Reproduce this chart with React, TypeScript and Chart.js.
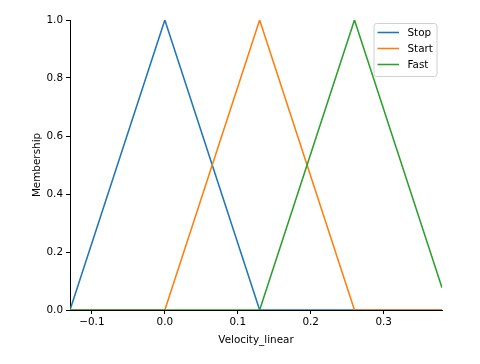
import React, { useEffect, useRef } from "react";
import { Chart, registerables } from "chart.js";

Chart.register(...registerables);

const xs = [-0.13, 0, 0.13, 0.26, 0.38];
const stop = [0, 1, 0, 0, 0];
const start = [0, 0, 1, 0, 0];
const fast = [0, 0, 0, 1, 0.077];
const xTicks = [-0.1, 0, 0.1, 0.2, 0.3];
const yTicks = [0, 0.2, 0.4, 0.6, 0.8, 1.0];
const names = ["Stop", "Start", "Fast"];
const colors = ["#1f77b4", "#ff7f0e", "#2ca02c"];

const FONT = "DejaVu Sans";
const FS = 10.4;

const legendPlugin = {
  id: "mplLegend",
  afterDatasetsDraw(chart: any) {
    const ctx = chart.ctx;
    const ca = chart.chartArea;
    const bx = ca.right - 68;
    const by = ca.top + 3.5;
    const bw = 63;
    const bh = 53;
    ctx.save();
    ctx.beginPath();
    const r = 2.5;
    ctx.moveTo(bx + r, by);
    ctx.lineTo(bx + bw - r, by);
    ctx.quadraticCurveTo(bx + bw, by, bx + bw, by + r);
    ctx.lineTo(bx + bw, by + bh - r);
    ctx.quadraticCurveTo(bx + bw, by + bh, bx + bw - r, by + bh);
    ctx.lineTo(bx + r, by + bh);
    ctx.quadraticCurveTo(bx, by + bh, bx, by + bh - r);
    ctx.lineTo(bx, by + r);
    ctx.quadraticCurveTo(bx, by, bx + r, by);
    ctx.closePath();
    ctx.fillStyle = "rgba(255,255,255,0.8)";
    ctx.fill();
    ctx.strokeStyle = "#d0d0d0";
    ctx.lineWidth = 1;
    ctx.stroke();
    ctx.font = `${FS}px '${FONT}'`;
    ctx.textBaseline = "middle";
    ctx.textAlign = "left";
    chart.data.datasets.forEach((ds: any, i: number) => {
      const y = by + 9 + i * 16;
      ctx.beginPath();
      ctx.moveTo(bx + 3.5, y);
      ctx.lineTo(bx + 25, y);
      ctx.strokeStyle = ds.borderColor;
      ctx.lineWidth = 1.56;
      ctx.stroke();
      ctx.fillStyle = "#000";
      ctx.fillText(ds.label, bx + 33.5, y + 0.5);
    });
    ctx.restore();
  },
};

const fmt = (v: number) => {
  const s = Math.abs(v).toFixed(1);
  return v < -1e-9 ? "\u2212" + s : s;
};

export default function App() {
  const ref = useRef<HTMLCanvasElement>(null);
  useEffect(() => {
    const series = [stop, start, fast];
    const chart = new Chart(ref.current!, {
      type: "line",
      data: {
        datasets: series.map((vals, i) => ({
          label: names[i],
          data: xs.map((x, j) => ({ x, y: vals[j] })),
          borderColor: colors[i],
          backgroundColor: colors[i],
          borderWidth: 1.56,
          pointRadius: 0,
          tension: 0,
          fill: false,
          order: 3 - i,
        })),
      },
      options: {
        responsive: false,
        animation: false,
        events: [],
        layout: { padding: { left: 0, right: 38, top: 20, bottom: 0 } },
        plugins: {
          legend: { display: false },
          tooltip: { enabled: false },
        },
        scales: {
          x: {
            type: "linear",
            min: -0.13,
            max: 0.38,
            afterBuildTicks: (s: any) => {
              s.ticks = xTicks.map((v) => ({ value: v }));
            },
            afterFit: (s: any) => {
              s.height = 54;
            },
            ticks: {
              callback: (v: any) => fmt(Number(v)),
              color: "#000",
              font: { family: FONT, size: FS },
              padding: 2,
              maxRotation: 0,
            },
            grid: {
              display: true,
              drawOnChartArea: false,
              drawTicks: true,
              tickLength: 4,
              color: "#000",
              lineWidth: 1,
            },
            border: { display: true, color: "#000", width: 1 },
            title: {
              display: true,
              text: "Velocity_linear",
              color: "#000",
              font: { family: FONT, size: FS },
              padding: { top: 4, bottom: 17 },
            },
          },
          y: {
            type: "linear",
            min: 0,
            max: 1,
            afterBuildTicks: (s: any) => {
              s.ticks = yTicks.map((v) => ({ value: v }));
            },
            afterFit: (s: any) => {
              s.width = 70;
            },
            ticks: {
              callback: (v: any) => fmt(Number(v)),
              color: "#000",
              font: { family: FONT, size: FS },
              padding: 3,
            },
            grid: {
              display: true,
              drawOnChartArea: false,
              drawTicks: true,
              tickLength: 4,
              color: "#000",
              lineWidth: 1,
            },
            border: { display: true, color: "#000", width: 1 },
            title: {
              display: true,
              text: "Membership",
              color: "#000",
              font: { family: FONT, size: FS },
              padding: { top: 31, bottom: 4 },
            },
          },
        },
      },
      plugins: [legendPlugin],
    });
    return () => chart.destroy();
  }, []);
  return (
    <div style={{ position: "fixed", left: 0, top: 0, width: 480, height: 364, background: "#fff" }}>
      <canvas ref={ref} width={480} height={364} style={{ display: "block" }} />
    </div>
  );
}
